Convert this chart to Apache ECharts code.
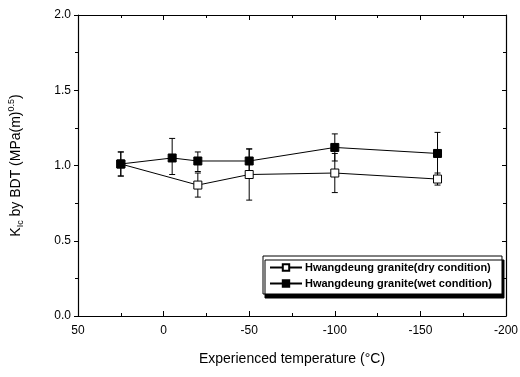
<!DOCTYPE html>
<html>
<head>
<meta charset="utf-8">
<script src="https://cdn.jsdelivr.net/npm/echarts@6/dist/echarts.min.js"></script>
<style>
  html, body { margin: 0; padding: 0; background: #fff; }
  #chart { width: 520px; height: 377px; }
</style>
</head>
<body>
<div id="chart"></div>
<script>
// temperatures (°C)
const dryTemps = [25, -20, -50, -100, -160];
const wetTemps = [25, -5, -20, -50, -100, -160];

// K_Ic values
const dryValues = [1.01, 0.87, 0.94, 0.95, 0.91];
const wetValues = [1.01, 1.05, 1.03, 1.03, 1.12, 1.08];

// error bar ranges [low, high]
const dryErrLow = [0.93, 0.79, 0.77, 0.82, 0.87];
const dryErrHigh = [1.09, 0.95, 1.11, 1.08, 0.95];
const wetErrLow = [0.93, 0.94, 0.96, 0.95, 1.03, 0.93];
const wetErrHigh = [1.09, 1.18, 1.09, 1.11, 1.21, 1.22];

const xTicks = [50, 0, -50, -100, -150, -200];
const yTicks = [0, 0.5, 1.0, 1.5, 2.0];

const dryName = 'Hwangdeung granite(dry condition)';
const wetName = 'Hwangdeung granite(wet condition)';

const FONT = '"Liberation Sans", Arial, sans-serif';

const chart = echarts.init(document.getElementById('chart'));

function errorBars(temps, lows, highs) {
  return temps.map((t, i) => [t, lows[i], highs[i]]);
}

function renderError(params, api) {
  const x = api.value(0);
  const lo = api.coord([x, api.value(1)]);
  const hi = api.coord([x, api.value(2)]);
  const cap = 3;
  const style = { stroke: '#000', lineWidth: 1 };
  return {
    type: 'group',
    children: [
      { type: 'line', shape: { x1: lo[0], y1: lo[1], x2: hi[0], y2: hi[1] }, style: style },
      { type: 'line', shape: { x1: lo[0] - cap, y1: lo[1], x2: lo[0] + cap, y2: lo[1] }, style: style },
      { type: 'line', shape: { x1: hi[0] - cap, y1: hi[1], x2: hi[0] + cap, y2: hi[1] }, style: style }
    ]
  };
}

const axisLine = { show: true, onZero: false, lineStyle: { color: '#000', width: 1.2 } };
const tickStyle = { color: '#000', width: 1 };

const option = {
  animation: false,
  backgroundColor: '#fff',
  textStyle: { fontFamily: FONT, color: '#000' },
  grid: { left: 78, right: 14, top: 15, bottom: 61, outerBoundsMode: 'none', containLabel: false },
  legend: {
    data: [dryName, wetName],
    orient: 'vertical',
    left: 263,
    top: 256,
    itemWidth: 32,
    itemHeight: 8,
    itemGap: 5,
    padding: [6, 10, 5, 6],
    backgroundColor: '#fff',
    borderColor: '#000',
    borderWidth: 1,
    shadowColor: '#000',
    shadowBlur: 0,
    shadowOffsetX: 2,
    shadowOffsetY: 4,
    textStyle: { fontFamily: FONT, fontSize: 11, fontWeight: 'bold', color: '#000', padding: [0, 0, 0, -2] }
  },
  xAxis: [
    {
      type: 'value',
      min: -200,
      max: 50,
      interval: 50,
      inverse: true,
      name: 'Experienced temperature (°C)',
      nameLocation: 'middle',
      nameGap: 36,
      nameTextStyle: { fontFamily: FONT, fontSize: 14, color: '#000' },
      axisLine: axisLine,
      axisTick: { inside: true, length: 5, lineStyle: tickStyle },
      minorTick: { show: true, splitNumber: 2, length: 3, lineStyle: tickStyle },
      axisLabel: { fontFamily: FONT, fontSize: 12, color: '#000', margin: 9,
        customValues: xTicks },
      splitLine: { show: false }
    },
    {
      type: 'value',
      position: 'top',
      min: -200,
      max: 50,
      interval: 50,
      inverse: true,
      axisLine: axisLine,
      axisTick: { inside: true, length: 5, lineStyle: tickStyle },
      minorTick: { show: true, splitNumber: 2, length: 3, lineStyle: tickStyle },
      axisLabel: { show: false },
      splitLine: { show: false }
    }
  ],
  yAxis: [
    {
      type: 'value',
      min: 0,
      max: 2,
      interval: 0.5,
      name: '{k|K}{sub|Ic}{t| by BDT (MPa(m)}{sup|0.5}{t|)}',
      nameLocation: 'middle',
      nameGap: 52,
      nameTextStyle: {
        fontFamily: FONT, fontSize: 14, color: '#000',
        rich: {
          k: { fontFamily: FONT, fontSize: 14, color: '#000', lineHeight: 20, verticalAlign: 'middle' },
          t: { fontFamily: FONT, fontSize: 14, color: '#000', lineHeight: 20, verticalAlign: 'middle' },
          sub: { fontFamily: FONT, fontSize: 9, color: '#000', lineHeight: 20, verticalAlign: 'bottom', padding: [0, 0, 1, 0] },
          sup: { fontFamily: FONT, fontSize: 9, color: '#000', lineHeight: 20, verticalAlign: 'top', padding: [1, 0, 0, 0] }
        }
      },
      axisLine: axisLine,
      axisTick: { inside: false, length: 4, lineStyle: tickStyle },
      minorTick: { show: true, splitNumber: 2, length: 3, lineStyle: tickStyle },
      axisLabel: {
        fontFamily: FONT, fontSize: 12, color: '#000', margin: 7,
        customValues: yTicks,
        formatter: v => v.toFixed(1)
      },
      splitLine: { show: false }
    },
    {
      type: 'value',
      position: 'right',
      min: 0,
      max: 2,
      interval: 0.5,
      axisLine: axisLine,
      axisTick: { inside: true, length: 4, lineStyle: tickStyle },
      minorTick: { show: true, splitNumber: 2, length: 3, lineStyle: tickStyle },
      axisLabel: { show: false },
      splitLine: { show: false }
    }
  ],
  series: [
    {
      name: 'dryErr',
      type: 'custom',
      renderItem: renderError,
      encode: { x: 0, y: [1, 2] },
      data: errorBars(dryTemps, dryErrLow, dryErrHigh),
      z: 1
    },
    {
      name: 'wetErr',
      type: 'custom',
      renderItem: renderError,
      encode: { x: 0, y: [1, 2] },
      data: errorBars(wetTemps, wetErrLow, wetErrHigh),
      z: 1
    },
    {
      name: dryName,
      type: 'line',
      data: dryTemps.map((t, i) => [t, dryValues[i]]),
      symbol: 'rect',
      symbolSize: 8,
      lineStyle: { color: '#000', width: 1 },
      itemStyle: { color: '#fff', borderColor: '#000', borderWidth: 1 },
      z: 3
    },
    {
      name: wetName,
      type: 'line',
      data: wetTemps.map((t, i) => [t, wetValues[i]]),
      symbol: 'rect',
      symbolSize: 8,
      lineStyle: { color: '#000', width: 1 },
      itemStyle: { color: '#000', borderColor: '#000', borderWidth: 1 },
      z: 4
    }
  ]
};

chart.setOption(option);
</script>
</body>
</html>
